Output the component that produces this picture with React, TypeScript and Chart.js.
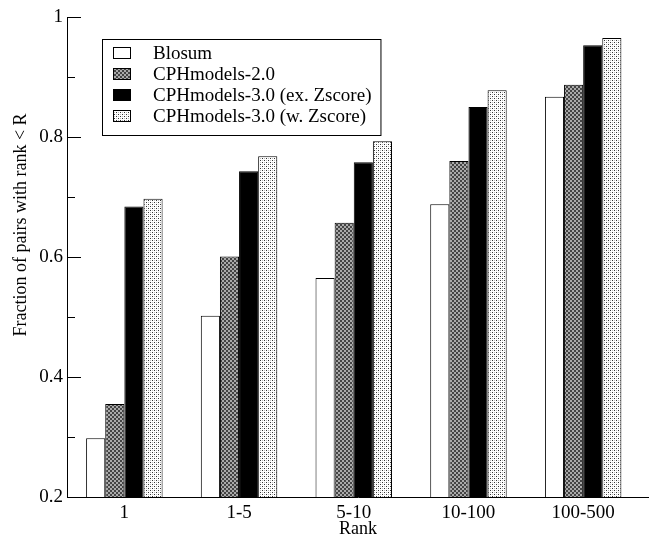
import React, { useEffect, useRef } from "react";
import { Chart, registerables } from "chart.js";

Chart.register(...registerables);

const categories = ["1", "1-5", "5-10", "10-100", "100-500"];
const seriesNames = [
  "Blosum",
  "CPHmodels-2.0",
  "CPHmodels-3.0 (ex. Zscore)",
  "CPHmodels-3.0 (w. Zscore)",
];
const blosum = [0.298, 0.502, 0.565, 0.688, 0.867];
const cph2 = [0.355, 0.601, 0.657, 0.76, 0.887];
const cph3ex = [0.684, 0.743, 0.758, 0.85, 0.953];
const cph3w = [0.697, 0.768, 0.793, 0.878, 0.965];
const yTicks = [0.2, 0.3, 0.4, 0.5, 0.6, 0.7, 0.8, 0.9, 1.0];
const yTickLabels = ["0.2", "", "0.4", "", "0.6", "", "0.8", "", "1"];
const xTitle = "Rank";
const yTitle = "Fraction of pairs with rank < R";

const FONT = "'Liberation Serif', 'Times New Roman', serif";

function makePattern(kind: string): CanvasPattern | string {
  const c = document.createElement("canvas");
  c.width = 4;
  c.height = 4;
  const g = c.getContext("2d");
  if (!g) return "#888";
  if (kind === "checker") {
    for (let y = 0; y < 4; y++)
      for (let x = 0; x < 4; x++) {
        const dark = (Math.floor(x / 2) + Math.floor(y / 2)) % 2 === 0;
        g.fillStyle = dark ? "#444444" : "#aaaaaa";
        g.fillRect(x, y, 1, 1);
      }
  } else {
    g.fillStyle = "#ffffff";
    g.fillRect(0, 0, 4, 4);
    g.fillStyle = "#333333";
    g.fillRect(0, 0, 1, 1);
    g.fillRect(2, 2, 1, 1);
    g.fillStyle = "#bbbbbb";
    g.fillRect(2, 0, 1, 1);
    g.fillRect(0, 2, 1, 1);
  }
  const ctx = document.createElement("canvas").getContext("2d");
  const p = ctx ? ctx.createPattern(c, "repeat") : null;
  return p || "#888";
}

const tickMarksPlugin = {
  id: "tickMarks",
  afterDraw(chart: any) {
    const { ctx, chartArea, scales } = chart;
    const ys = scales.y;
    ctx.save();
    ctx.strokeStyle = "#000";
    ctx.lineWidth = 1;
    yTicks.forEach((v, i) => {
      const py = Math.round(ys.getPixelForValue(v)) + 0.5;
      const len = yTickLabels[i] ? 14 : 8;
      ctx.beginPath();
      ctx.moveTo(chartArea.left, py);
      ctx.lineTo(chartArea.left + len, py);
      ctx.stroke();
    });
    // y-axis title (placed as in the reference, slightly above the axis centre)
    ctx.fillStyle = "#000";
    ctx.font = `18px ${FONT}`;
    ctx.translate(21, 225);
    ctx.rotate(-Math.PI / 2);
    ctx.textAlign = "center";
    ctx.textBaseline = "middle";
    ctx.fillText(yTitle, 0, 0);
    ctx.restore();
  },
};

const legendBoxPlugin = {
  id: "legendBox",
  afterDraw(chart: any) {
    const { ctx } = chart;
    const ds = chart.data.datasets;
    ctx.save();
    ctx.font = `19px ${FONT}`;
    let maxW = 0;
    ds.forEach((d: any) => {
      maxW = Math.max(maxW, ctx.measureText(d.label).width);
    });
    const left = 102;
    const top = 39;
    const rowH = 21;
    const swX = 113;
    const swW = 18;
    const swH = 12;
    const textX = 153;
    const right = textX + maxW + 9;
    const bottom = top + 14 + rowH * ds.length - 2;
    ctx.fillStyle = "#fff";
    ctx.fillRect(left, top, right - left, bottom - top);
    ctx.strokeStyle = "#000";
    ctx.lineWidth = 1;
    ctx.strokeRect(left + 0.5, top + 0.5, right - left, bottom - top);
    ds.forEach((d: any, i: number) => {
      const cy = top + 14 + rowH * i;
      ctx.fillStyle = d.backgroundColor;
      ctx.fillRect(swX, cy - swH / 2, swW, swH);
      ctx.strokeStyle = "#000";
      ctx.strokeRect(swX + 0.5, cy - swH / 2 + 0.5, swW - 1, swH - 1);
      ctx.fillStyle = "#000";
      ctx.textBaseline = "middle";
      ctx.textAlign = "left";
      ctx.fillText(d.label, textX, cy + 1);
    });
    ctx.restore();
  },
};

export default function App() {
  const ref = useRef<HTMLCanvasElement>(null);
  useEffect(() => {
    if (!ref.current) return;
    const fills: any[] = ["#ffffff", makePattern("checker"), "#000000", makePattern("dots")];
    const values = [blosum, cph2, cph3ex, cph3w];
    const chart = new Chart(ref.current, {
      type: "bar",
      data: {
        datasets: values.map((arr, k) => ({
          label: seriesNames[k],
          data: arr.map((v, i) => ({ x: i + 1, y: v })),
          backgroundColor: fills[k],
          borderColor: "#000",
          borderWidth: 1,
          categoryPercentage: 0.6667,
          barPercentage: 1,
        })),
      },
      options: {
        animation: false,
        responsive: false,
        layout: { padding: { top: 17, left: 0, right: 0, bottom: 0 } },
        plugins: { legend: { display: false }, tooltip: { enabled: false } },
        scales: {
          x: {
            type: "linear",
            offset: false,
            min: 0.5,
            max: 5.574,
            grid: { display: false, drawTicks: false, offset: false },
            border: { display: true, color: "#000", width: 1 },
            afterBuildTicks: (s: any) => {
              s.ticks = categories.map((_, i) => ({ value: i + 1 }));
            },
            afterFit: (s: any) => {
              s.height = 41;
            },
            ticks: {
              autoSkip: false,
              maxRotation: 0,
              padding: 5,
              color: "#000",
              font: { family: FONT, size: 19 },
              callback: (v: any) => categories[Math.round(Number(v)) - 1] ?? "",
            },
            title: {
              display: true,
              text: xTitle,
              color: "#000",
              font: { family: FONT, size: 18 },
              padding: { top: 0, bottom: -2 },
            },
          },
          y: {
            type: "linear",
            min: 0.2,
            max: 1.0,
            grid: { display: false, drawTicks: false },
            border: { display: true, color: "#000", width: 1 },
            afterBuildTicks: (s: any) => {
              s.ticks = yTicks.map((v) => ({ value: v }));
            },
            afterFit: (s: any) => {
              s.width = 67;
            },
            ticks: {
              autoSkip: false,
              padding: 4,
              color: "#000",
              font: { family: FONT, size: 19 },
              callback: (_v: any, i: number) => yTickLabels[i],
            },
            title: { display: false },
          },
        },
      },
      plugins: [tickMarksPlugin, legendBoxPlugin],
    });
    return () => chart.destroy();
  }, []);
  return (
    <div style={{ position: "absolute", left: 0, top: 0, width: 649, height: 538, background: "#fff" }}>
      <canvas ref={ref} width={649} height={538} />
    </div>
  );
}
